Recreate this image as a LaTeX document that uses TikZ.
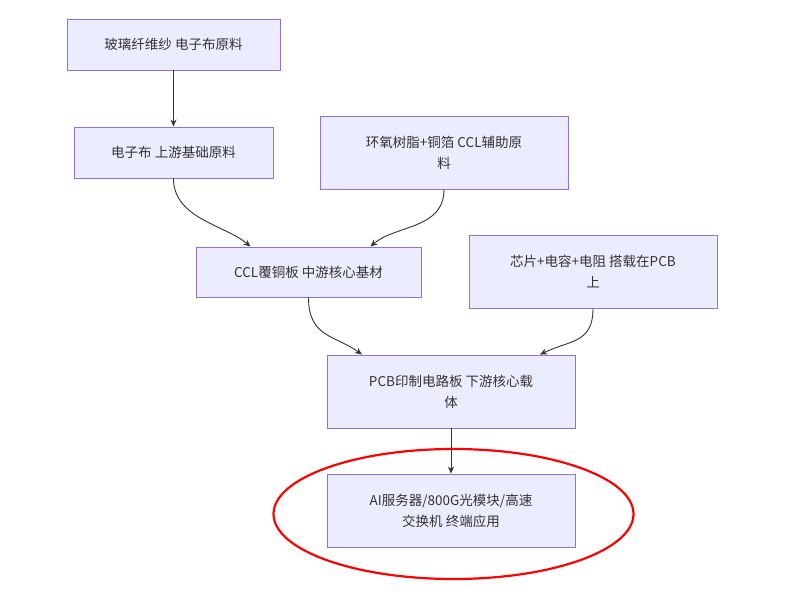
\documentclass[tikz,border=0pt]{standalone}
\usepackage{fontspec}
\setmainfont{Noto Sans CJK SC}
\usetikzlibrary{arrows.meta}
\definecolor{nfill}{HTML}{ECECFF}
\definecolor{nline}{HTML}{9370DB}
\definecolor{ecol}{HTML}{333333}
\begin{document}
\begin{tikzpicture}[x=1pt,y=-1pt,
  box/.style={draw=nline,fill=nfill,line width=0.9pt,align=center,font=\fontsize{13.5}{21}\selectfont,text=ecol},
  arr/.style={draw=ecol,line width=0.9pt,-{Stealth[length=7pt,width=6pt]}}]
\useasboundingbox (0,0) rectangle (796,599);
\fill[white] (0,0) rectangle (796,599);
\node[box,minimum width=213pt,minimum height=51pt] (a) at (173.5,44.5) {玻璃纤维纱 电子布原料};
\node[box,minimum width=199pt,minimum height=51pt] (b) at (173.5,152.5) {电子布 上游基础原料};
\node[box,minimum width=248pt,minimum height=73pt] (c) at (444,152.5) {环氧树脂+铜箔 CCL辅助原\\料};
\node[box,minimum width=225pt,minimum height=50pt] (d) at (308.5,272) {CCL覆铜板 中游核心基材};
\node[box,minimum width=248pt,minimum height=73pt] (e) at (593,271.5) {芯片+电容+电阻 搭载在PCB\\上};
\node[box,minimum width=248pt,minimum height=73pt] (f) at (451,391.5) {PCB印制电路板 下游核心载\\体};
\node[box,minimum width=248pt,minimum height=73pt] (g) at (451,510.5) {AI服务器/800G光模块/高速\\交换机 终端应用};
\draw[red,line width=2.2pt] (453.5,514) ellipse [x radius=180pt,y radius=65pt];
\draw[arr] (a.south) -- (b.north);
\draw[arr] (b.south) .. controls +(0,40) and (225,225) .. ([xshift=-58pt]d.north);
\draw[arr] (c.south) .. controls +(0,40) and (395,225) .. ([xshift=62pt]d.north);
\draw[arr] (d.south) .. controls +(0,40) and (335,335) .. ([xshift=-89pt]f.north);
\draw[arr] (e.south) .. controls +(0,35) and (570,340) .. ([xshift=89pt]f.north);
\draw[arr] (f.south) -- (g.north);
\end{tikzpicture}
\end{document}
